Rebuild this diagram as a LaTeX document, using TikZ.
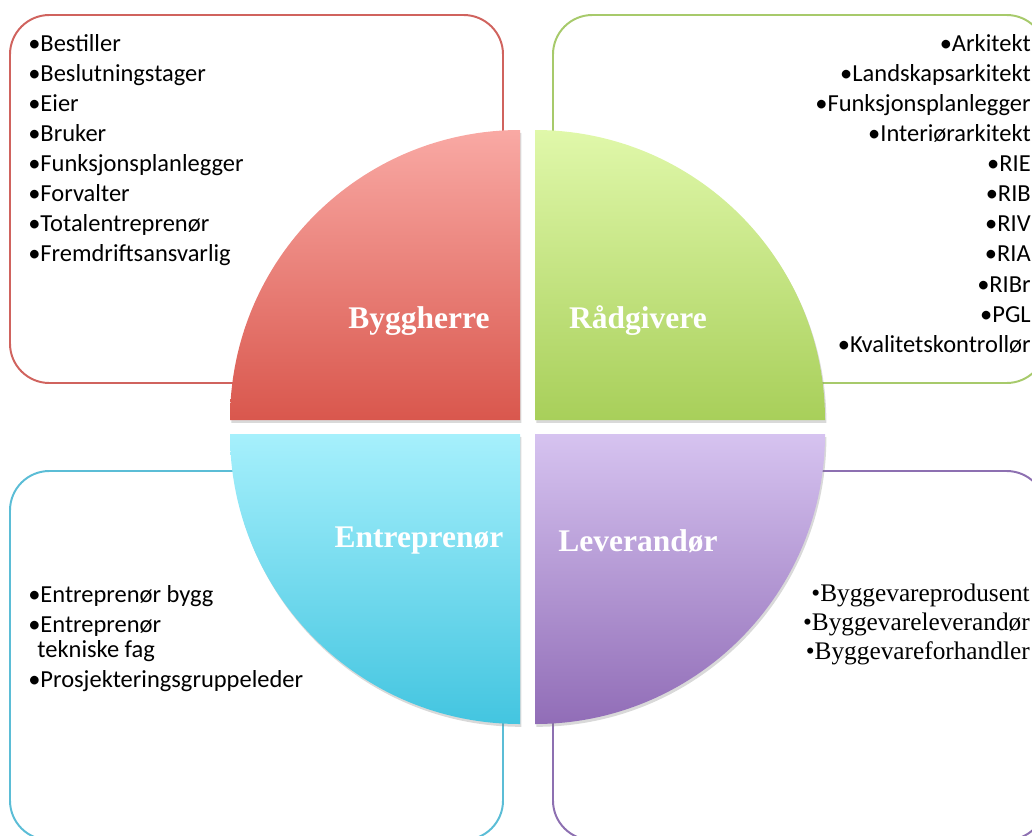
\documentclass[tikz,border=0pt]{standalone}
\usepackage{fontspec}
\setmainfont{Carlito}
\newfontfamily\serifface{Liberation Serif}
\usetikzlibrary{shadows}

\definecolor{redtop}{HTML}{F9A9A4}
\definecolor{redbot}{HTML}{D9574D}
\definecolor{redline}{HTML}{D0635E}
\definecolor{greentop}{HTML}{E0F8AA}
\definecolor{greenbot}{HTML}{A8CF5A}
\definecolor{greenline}{HTML}{A7CA6B}
\definecolor{cyantop}{HTML}{A6F0FC}
\definecolor{cyanbot}{HTML}{43C5E0}
\definecolor{cyanline}{HTML}{5BBDD6}
\definecolor{purpletop}{HTML}{D6C3F0}
\definecolor{purplebot}{HTML}{916DB7}
\definecolor{purpleline}{HTML}{8D70B1}

\tikzset{
  rolebox/.style={draw=#1, line width=1.4pt, rounded corners=28pt},
  quarter/.style={drop shadow={opacity=0.3, shadow xshift=1pt, shadow yshift=-2pt}},
  rolename/.style={text=white, inner sep=0pt, font=\serifface\bfseries\fontsize{22.4}{25}\selectfont},
  rolelist/.style={inner sep=0pt, font=\fontsize{17.4}{21.4}\selectfont}
}

\begin{document}
\begin{tikzpicture}[x=0.025cm, y=0.025cm]
  \useasboundingbox (0,0) rectangle (1032,-835);
  \clip (0,0) rectangle (1032,-835);
  % boxes behind
  \draw[rolebox=redline] (10,-15) rectangle (503,-383);
  \draw[rolebox=greenline] (553,-15) rectangle (1046,-383);
  \draw[rolebox=cyanline] (10,-471) rectangle (503,-840);
  \draw[rolebox=purpleline] (553,-471) rectangle (1046,-840);
  % the four quarters
  \coordinate (C1) at (520,-420);
  \coordinate (C2) at (535,-420);
  \coordinate (C3) at (520,-434);
  \coordinate (C4) at (535,-434);
  \shade[quarter, top color=redtop, bottom color=redbot] (C1) -- (230,-420) arc[start angle=180, end angle=90, radius=290] -- cycle;
  \shade[quarter, top color=greentop, bottom color=greenbot] (C2) -- (535,-130) arc[start angle=90, end angle=0, radius=290] -- cycle;
  \shade[quarter, top color=cyantop, bottom color=cyanbot] (C3) -- (230,-434) arc[start angle=180, end angle=270, radius=290] -- cycle;
  \shade[quarter, top color=purpletop, bottom color=purplebot] (C4) -- (825,-434) arc[start angle=0, end angle=-90, radius=290] -- cycle;
  % names
  \node[rolename] (byggherre) at (419,-321) {Byggherre};
  \node[rolename] (radgivere) at (638,-321) {Rådgivere};
  \node[rolename] (entreprenor) at (419,-541) {Entreprenør};
  \node[rolename] (leverandor) at (638,-541) {Leverandør};
  % lists
  \node[rolelist, anchor=north west, align=left] (byggherrelist) at (28,-34) {%
    \textbullet Bestiller\\ \textbullet Beslutningstager\\ \textbullet Eier\\ \textbullet Bruker\\
    \textbullet Funksjonsplanlegger\\ \textbullet Forvalter\\ \textbullet Totalentreprenør\\
    \textbullet Fremdriftsansvarlig};
  \node[rolelist, anchor=north east, align=right] (radgiverelist) at (1031,-34) {%
    \textbullet Arkitekt\\ \textbullet Landskapsarkitekt\\ \textbullet Funksjonsplanlegger\\
    \textbullet Interiørarkitekt\\ \textbullet RIE\\ \textbullet RIB\\ \textbullet RIV\\
    \textbullet RIA\\ \textbullet RIBr\\ \textbullet PGL\\ \textbullet Kvalitetskontrollør};
  \node[rolelist, anchor=north west, align=left, font=\fontsize{17.4}{17.8}\selectfont] (entreprenorlist) at (28,-585) {%
    \textbullet Entreprenør bygg\\[3.6pt] \textbullet Entreprenør\\ \hspace{6.5pt}tekniske fag\\[3.6pt]
    \textbullet Prosjekteringsgruppeleder};
  \node[rolelist, anchor=north east, align=right, font=\serifface\fontsize{18}{20.6}\selectfont] (leverandorlist) at (1030,-584) {%
    \textbullet Byggevareprodusent\\ \textbullet Byggevareleverandør\\ \textbullet Byggevareforhandler};
\end{tikzpicture}
\end{document}
